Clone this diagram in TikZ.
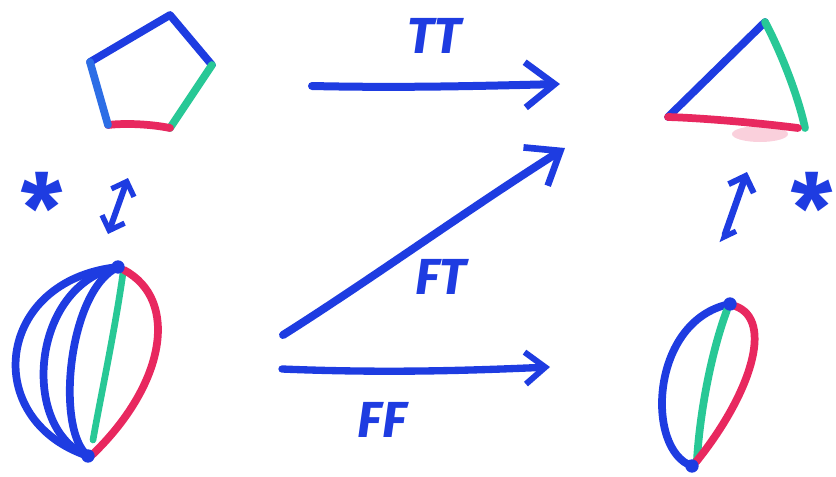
\documentclass[tikz,border=0pt]{standalone}
\usepackage{fontspec}
\newfontfamily\hand{Fira Sans}
\usetikzlibrary{arrows.meta}
\definecolor{pblue}{RGB}{30,60,225}
\definecolor{lblue}{RGB}{45,110,230}
\definecolor{pgreen}{RGB}{40,200,150}
\definecolor{pred}{RGB}{232,40,95}
\begin{document}
\begin{tikzpicture}[x=0.75pt,y=-0.75pt,line cap=round,line join=round,
  pen/.style={line width=5.8pt},
  thinpen/.style={line width=5pt},
  bigarr/.style={pblue,line width=6pt,-{Straight Barb[length=22pt,width=34pt,line width=5pt]}},
  smallarr/.style={pblue,line width=5.5pt,-{Straight Barb[length=15pt,width=24pt,line width=4.5pt]}},
  lbl/.style={pblue,font=\hand\bfseries\itshape\fontsize{38}{40}\selectfont,inner sep=0pt},
  starlbl/.style={pblue,font=\hand\bfseries\fontsize{72}{72}\selectfont,inner sep=0pt,anchor=north},
  dot/.style={fill=pblue,circle,inner sep=0pt,minimum size=10pt}]
\useasboundingbox (0,0) rectangle (836,476);

% ---------- pentagon ----------
\coordinate (p1) at (90,62);
\coordinate (p2) at (170,15);
\coordinate (p3) at (212,65);
\coordinate (p4) at (170,128);
\coordinate (p5) at (108,125);
\draw[pen,pblue] (p1) -- (p2) -- (p3);
\draw[pen,pgreen] (p3) -- (p4);
\draw[pen,pred] (p4) .. controls (150,124) and (125,123) .. (p5);
\draw[pen,lblue] (p5) -- (p1);

% ---------- triangle ----------
\coordinate (t1) at (668,117);
\coordinate (t2) at (765,22);
\coordinate (t3) at (805,128);
\coordinate (t4) at (798,128);
\fill[pred,opacity=0.22] (760,134) ellipse (28 and 8);
\draw[pen,pblue] (t1) -- (t2);
\draw[pen,pgreen] (t2) .. controls (780,50) and (798,95) .. (t3);
\draw[pen,pred] (t1) .. controls (700,118) and (750,122) .. (t4);

% ---------- left melon ----------
\coordinate (m1) at (118,267);
\coordinate (m2) at (88,456);
\draw[pen,pblue] (m1) .. controls (-5,280) and (-20,420) .. (m2);
\draw[pen,pblue] (m1) .. controls (30,285) and (20,430) .. (m2);
\draw[pen,pblue] (m1) .. controls (68,290) and (55,430) .. (m2);
\draw[thinpen,pgreen] (123,273) .. controls (115,330) and (100,400) .. (93,440);
\draw[pen,pred] (124,270) .. controls (180,300) and (165,385) .. (92,455);
\node[dot] (md1) at (m1) {};
\node[dot] (md2) at (m2) {};

% ---------- right melon ----------
\coordinate (r1) at (730,304);
\coordinate (r2) at (692,466);
\draw[pen,pblue] (r1) .. controls (650,320) and (645,450) .. (r2);
\draw[pen,pgreen] (727,310) .. controls (712,350) and (700,410) .. (697,460);
\draw[pen,pred] (735,306) .. controls (775,320) and (750,395) .. (696,462);
\node[dot] (rd1) at (r1) {};
\node[dot] (rd2) at (r2) {};

% ---------- double arrows and stars ----------
\coordinate (la1) at (108,234);
\coordinate (la2) at (128,178);
\draw[pblue,line width=4.5pt,{Straight Barb[length=9pt,width=18pt,line width=4pt]}-{Straight Barb[length=9pt,width=18pt,line width=4pt]}] (la1) -- (la2);
\coordinate (ra1) at (722,243);
\coordinate (ra2) at (747,172);
\draw[pblue,line width=5pt,{Straight Barb[left,length=7pt,width=14pt,line width=4pt]}-{Straight Barb[length=10pt,width=20pt,line width=4.5pt]}] (ra1) -- (ra2);
\node[starlbl] (sl) at (42,172) {*};
\node[starlbl] (sr) at (812,172) {*};

% ---------- main arrows ----------
\coordinate (tta) at (312,86);
\coordinate (ttb) at (560,84);
\draw[bigarr] (tta) .. controls (400,88) and (480,86) .. (ttb);
\coordinate (fta) at (283,335);
\coordinate (ftb) at (565,148);
\draw[bigarr] (fta) .. controls (370,280) and (470,208) .. (ftb);
\coordinate (ffa) at (282,369);
\coordinate (ffb) at (550,367);
\draw[smallarr] (ffa) .. controls (380,373) and (460,371) .. (ffb);

\node[lbl] (tt) at (434,36) {TT};
\node[lbl] (ft) at (441,277) {FT};
\node[lbl] (ff) at (382,420) {FF};
\end{tikzpicture}
\end{document}
